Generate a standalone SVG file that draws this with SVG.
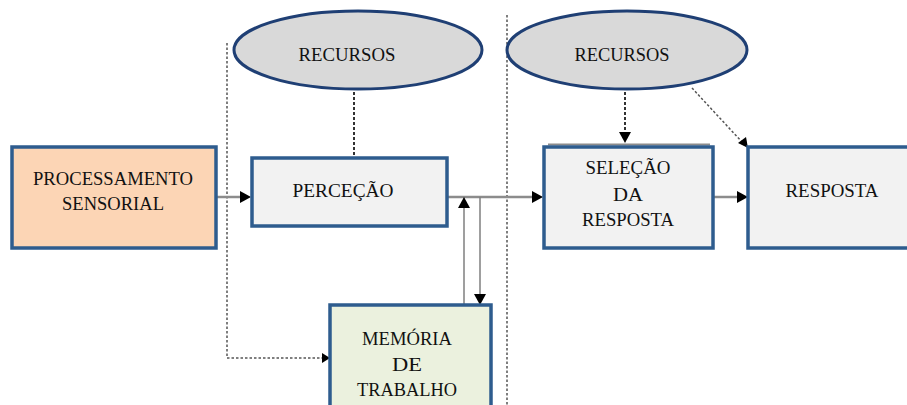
<svg xmlns="http://www.w3.org/2000/svg" width="907" height="405" viewBox="0 0 907 405">
<defs>
<style>
.box{stroke:#2e5c8e;stroke-width:3.5}
.ell{fill:#d9d9d9;stroke:#1f3f74;stroke-width:3}
.t{font-family:"Liberation Serif","Times New Roman",serif;font-size:19px;fill:#111;text-anchor:middle}
.flow{stroke:#8c8c8c;stroke-width:2.5;fill:none}
.thin{stroke:#7f7f7f;stroke-width:1.5;fill:none}
.dot{stroke:#555;stroke-width:1.5;stroke-dasharray:2.5,2;fill:none}
.dash{stroke:#333;stroke-width:2;stroke-dasharray:3,2;fill:none}
</style>
</defs>
<rect width="907" height="405" fill="#fff"/>
<g id="connectors">
<path class="dot" d="M227,43 V358 H328"/>
<path d="M322,353 L330,358 L322,363 z" fill="#000"/>
<line class="dot" x1="507" y1="15" x2="507" y2="405"/>
<line class="flow" x1="216" y1="197" x2="243" y2="197"/>
<path d="M240,191 L251,197 L240,203 z" fill="#000"/>
<line class="flow" x1="447" y1="197" x2="535" y2="197"/>
<path d="M532,191 L543,197 L532,203 z" fill="#000"/>
<line class="flow" x1="713" y1="197" x2="740" y2="197"/>
<path d="M737,191 L748,197 L737,203 z" fill="#000"/>
<line class="thin" x1="464" y1="305" x2="464" y2="205"/>
<path d="M458,208 L464,197 L470,208 z" fill="#000"/>
<line class="thin" x1="480" y1="197" x2="480" y2="296"/>
<path d="M474,294 L480,305 L486,294 z" fill="#000"/>
<line class="dash" x1="354" y1="92" x2="354" y2="156"/>
<line class="dash" x1="625" y1="92" x2="625" y2="134"/>
<path d="M619,132 L625,143 L631,132 z" fill="#000"/>
<line class="dot" x1="692" y1="88" x2="742" y2="142"/>
<path d="M738,143 L748,148 L746,137 z" fill="#000"/>
<line x1="548" y1="144.5" x2="710" y2="144.5" stroke="#8c8c8c" stroke-width="2"/>
</g>
<g id="recursos1">
<ellipse class="ell" cx="358" cy="50" rx="124" ry="39"/>
<text class="t" x="347" y="61" textLength="97" lengthAdjust="spacingAndGlyphs">RECURSOS</text>
</g>
<g id="recursos2">
<ellipse class="ell" cx="627" cy="50" rx="120" ry="39"/>
<text class="t" x="622" y="61" textLength="95" lengthAdjust="spacingAndGlyphs">RECURSOS</text>
</g>
<g id="processamento">
<rect class="box" x="12" y="147" width="204" height="101" fill="#fcd5b5"/>
<text class="t" x="113" y="185" textLength="160" lengthAdjust="spacingAndGlyphs">PROCESSAMENTO</text>
<text class="t" x="113" y="210" textLength="102" lengthAdjust="spacingAndGlyphs">SENSORIAL</text>
</g>
<g id="percecao">
<rect class="box" x="252" y="158" width="195" height="68" fill="#f2f2f2"/>
<text class="t" x="343" y="197" textLength="101" lengthAdjust="spacingAndGlyphs">PERCEÇÃO</text>
</g>
<g id="memoria">
<rect class="box" x="330" y="305" width="161" height="110" fill="#ebf1de"/>
<text class="t" x="407" y="345" textLength="90" lengthAdjust="spacingAndGlyphs">MEMÓRIA</text>
<text class="t" x="407" y="371" textLength="30" lengthAdjust="spacingAndGlyphs">DE</text>
<text class="t" x="407" y="396" textLength="100" lengthAdjust="spacingAndGlyphs">TRABALHO</text>
</g>
<g id="selecao">
<rect class="box" x="544" y="147" width="169" height="101" fill="#f2f2f2"/>
<text class="t" x="628" y="174" textLength="85" lengthAdjust="spacingAndGlyphs">SELEÇÃO</text>
<text class="t" x="628" y="201" textLength="30" lengthAdjust="spacingAndGlyphs">DA</text>
<text class="t" x="628" y="226" textLength="92" lengthAdjust="spacingAndGlyphs">RESPOSTA</text>
</g>
<g id="resposta">
<rect class="box" x="748" y="147" width="170" height="101" fill="#f2f2f2"/>
<text class="t" x="832" y="197" textLength="93" lengthAdjust="spacingAndGlyphs">RESPOSTA</text>
</g>
</svg>
